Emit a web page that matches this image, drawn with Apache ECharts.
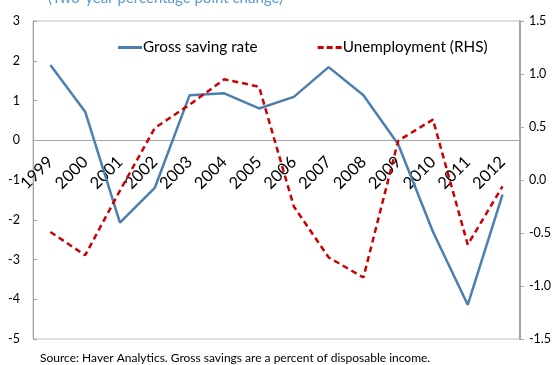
<!DOCTYPE html>
<html>
<head>
<meta charset="utf-8">
<script src="https://cdn.jsdelivr.net/npm/echarts@6/dist/echarts.min.js"></script>
<style>
html,body{margin:0;padding:0;background:#fff;}
#c{width:554px;height:365px;}
</style>
</head>
<body>
<div id="c"></div>
<script>
var years = ['1999','2000','2001','2002','2003','2004','2005','2006','2007','2008','2009','2010','2011','2012'];
var grossSaving = [1.89, 0.72, -2.07, -1.2, 1.13, 1.18, 0.8, 1.09, 1.84, 1.13, -0.1, -2.3, -4.14, -1.37];
var unemployment = [-0.49, -0.71, -0.1, 0.49, 0.71, 0.95, 0.88, -0.25, -0.73, -0.92, 0.37, 0.57, -0.61, -0.06];
var leftTicks = {min: -5, max: 3, interval: 1};
var rightTicks = {min: -1.5, max: 1.5, interval: 0.5};

var FONT = 'Lato';
var GRID = {left: 33, right: 33, top: 21, bottom: 26};
var plotH = 365 - GRID.top - GRID.bottom;
// x axis sits on the zero of the left axis
var zeroOffset = -plotH * (0 - leftTicks.min) / (leftTicks.max - leftTicks.min);

var chart = echarts.init(document.getElementById('c'));
chart.setOption({
  animation: false,
  title: {
    text: '(Two-year percentage point change)',
    left: 43, top: -14,
    textStyle: {color: '#5b9bd5', fontSize: 15, fontWeight: 'normal', fontFamily: FONT}
  },
  legend: {
    left: 113, top: 35,
    itemWidth: 24, itemHeight: 3, itemGap: 60,
    textStyle: {fontSize: 15.3, color: '#000', fontFamily: FONT, padding: [0,0,0,-4]},
    data: [
      {name: 'Gross saving rate', icon: 'path://M0,0h24v3h-24z', itemStyle: {color: '#4a7fb0'}},
      {name: 'Unemployment (RHS)', icon: 'path://M0,0h6v3h-6zM9,0h6v3h-6zM18,0h6v3h-6z', itemStyle: {color: '#cc0000'}}
    ]
  },
  grid: {left: GRID.left, right: GRID.right, top: GRID.top, bottom: GRID.bottom, show: true, borderColor: '#bfbfbf', borderWidth: 1, containLabel: false},
  xAxis: {
    type: 'category', data: years, boundaryGap: true, position: 'bottom', offset: zeroOffset,
    axisLine: {onZero: false, lineStyle: {color: '#a6a6a6'}},
    axisTick: {inside: true, length: 5, lineStyle: {color: '#a6a6a6'}},
    axisLabel: {rotate: 45, fontSize: 16.5, color: '#000', fontFamily: FONT, margin: 19}
  },
  yAxis: [{
    type: 'value', min: leftTicks.min, max: leftTicks.max, interval: leftTicks.interval,
    axisLine: {show: true, lineStyle: {color: '#a6a6a6'}},
    axisTick: {show: true, inside: true, length: 4, lineStyle: {color: '#a6a6a6'}},
    splitLine: {show: false},
    axisLabel: {fontSize: 12.5, color: '#000', fontFamily: FONT, margin: 13}
  }, {
    type: 'value', min: rightTicks.min, max: rightTicks.max, interval: rightTicks.interval,
    position: 'right',
    axisLine: {show: true, lineStyle: {color: '#a6a6a6', width: 2}},
    axisTick: {show: true, inside: false, length: 4, lineStyle: {color: '#a6a6a6'}},
    splitLine: {show: false},
    axisLabel: {fontSize: 12.5, color: '#000', fontFamily: FONT, margin: 9,
      formatter: function(v){ return v.toFixed(1); }}
  }],
  series: [{
    name: 'Gross saving rate', type: 'line', yAxisIndex: 0, data: grossSaving,
    symbol: 'none', lineStyle: {color: '#4a7fb0', width: 2.5}, itemStyle: {color: '#4a7fb0'}
  }, {
    name: 'Unemployment (RHS)', type: 'line', yAxisIndex: 1, data: unemployment,
    symbol: 'none', lineStyle: {color: '#cc0000', width: 2.5, type: [6, 4]}, itemStyle: {color: '#cc0000'}
  }],
  graphic: [{
    type: 'text', left: 40, top: 352,
    style: {text: 'Source: Haver Analytics. Gross savings are a percent of disposable income.', fontSize: 12, fill: '#000', fontFamily: FONT}
  }]
});
</script>
</body>
</html>
